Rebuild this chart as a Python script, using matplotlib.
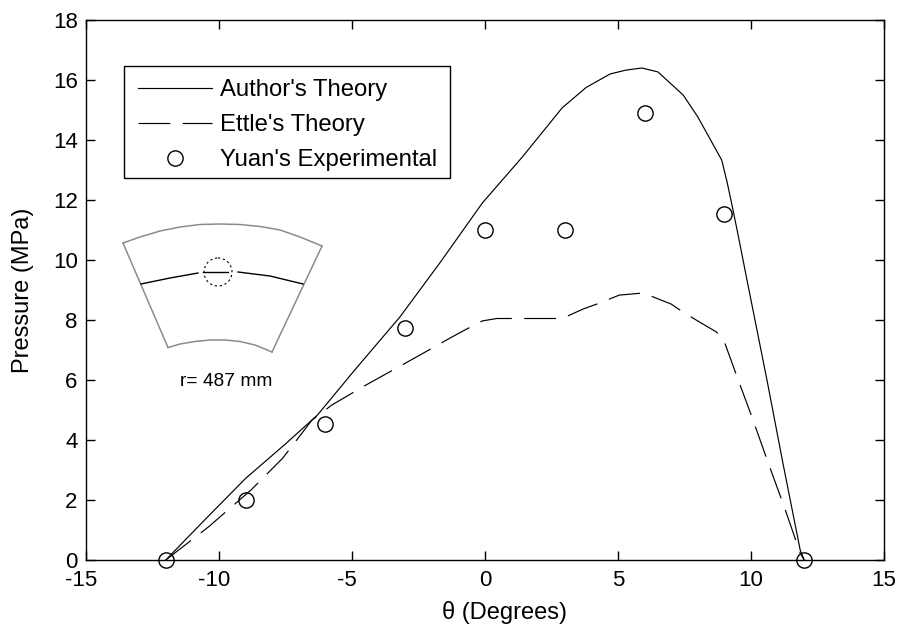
#!/usr/bin/env python3
"""Pressure vs. angle: theory curves against experiment, with a small pad sketch."""

import matplotlib
matplotlib.use("Agg")
import matplotlib.pyplot as plt
from matplotlib.patches import Circle, Rectangle
from matplotlib.transforms import Affine2D

plt.rcParams["font.family"] = ["Liberation Sans", "DejaVu Sans"]
plt.rcParams["axes.unicode_minus"] = False

# Author's theory
author_theta = [-12, -10.6, -9, -7.5, -6.3, -4.9, -3.2, -1.7, -0.1, 1.4, 2.9, 3.8, 4.7, 5.3, 5.9, 6.5, 7.45, 8, 8.65, 8.9, 9.1, 9.3, 9.5, 9.85, 10.6, 11.2, 11.85, 12]
author_p = [0, 1.28, 2.72, 3.87, 4.83, 6.33, 8.1, 9.9, 11.9, 13.43, 15.07, 15.75, 16.2, 16.33, 16.4, 16.27, 15.5, 14.77, 13.73, 13.33, 12.6, 11.77, 10.9, 9.33, 6.0, 3.23, 0.33, 0]

# Ettle's theory
ettle_theta = [-12, -10.4, -8.8, -7.6, -6.5, -5.75, -4.6, -2.45, -1.25, -0.75, -0.1, 0.45, 2.9, 3.7, 4.2, 5.05, 5.95, 7, 7.5, 8.7, 9, 9.45, 10.05, 10.65, 11.25, 11.85, 12]
ettle_p = [0, 1.1, 2.33, 3.4, 4.67, 5.17, 5.77, 6.83, 7.43, 7.67, 7.97, 8.05, 8.05, 8.37, 8.53, 8.83, 8.9, 8.53, 8.23, 7.6, 7.27, 6.17, 4.73, 3.23, 1.77, 0.23, 0]

# Yuan's experimental points
yuan_theta = [-12, -9, -6, -3, 0, 3, 6, 9, 12]
yuan_p = [0, 2.0, 4.55, 7.75, 11.0, 11.0, 14.9, 11.55, 0]

x_ticks = [-15, -10, -5, 0, 5, 10, 15]
y_ticks = [0, 2, 4, 6, 8, 10, 12, 14, 16, 18]

# Pad sketch outline, in figure pixels (y measured from the top)
outer_arc = ([123, 140, 160, 180, 200, 220, 240, 260, 280, 300, 322],
             [243, 237, 231, 227, 224.5, 224, 224.5, 226.5, 230, 237, 246])
inner_arc = ([168, 180, 195, 210, 225, 240, 255, 272],
             [347.5, 344, 341.5, 340, 340, 341.5, 345, 352])
film_left = ([141, 170, 198], [284, 278, 273])
film_right = ([238, 270, 303], [272, 276, 284])
film_mid = ([203, 228], [272, 272])
detail_center = (218, 272)
detail_radius = 14

W, H = 899, 628

fig = plt.figure(figsize=(W / 100, H / 100), dpi=100)
ax = fig.add_axes([86 / W, 1 - 560 / H, 798 / W, 540 / H])

ax.plot(author_theta, author_p, color="black", lw=0.85, label="Author's Theory")
ax.plot(ettle_theta, ettle_p, color="black", lw=0.85, dashes=(27, 10.5), label="Ettle's Theory")
ax.plot(yuan_theta, yuan_p, "o", mfc="none", mec="black", mew=1.0, ms=11,
        clip_on=False, zorder=5, label="Yuan's Experimental")

ax.set_xlim(-15, 15)
ax.set_ylim(0, 18)
ax.set_xticks(x_ticks, labels=[str(t) for t in x_ticks])
ax.set_yticks(y_ticks)
ax.tick_params(direction="in", top=True, right=True, length=6.8, width=1.0, labelsize=16)
ax.tick_params(axis="x", pad=7.5)
ax.tick_params(axis="y", pad=6)
for spine in ax.spines.values():
    spine.set_linewidth(1.0)

# negative labels sit a little left of their ticks in the original
for lbl in ax.get_xticklabels():
    if lbl.get_text().startswith("-"):
        lbl.set_transform(lbl.get_transform() + Affine2D().translate(-5, 0))

# Legend without its own frame, so the box can be sized separately below
ax.legend(loc="upper left", bbox_to_anchor=(52 / 798, 1 - 59 / 540), fontsize=17.2, frameon=False,
          borderaxespad=0, borderpad=0, labelspacing=0.55, handlelength=3.1, handletextpad=0.32)

# Sketch overlay, legend box and axis titles drawn in pixel coordinates
sk = fig.add_axes([0, 0, 1, 1], facecolor="none")
sk.set_xlim(0, W)
sk.set_ylim(H, 0)
sk.axis("off")
sk.add_patch(Rectangle((124, 66), 326, 112, fill=False, ec="black", lw=1.0))
grey = "#8c8c8c"
sk.plot(*outer_arc, color=grey, lw=1.1)
sk.plot(*inner_arc, color=grey, lw=1.1)
sk.plot([outer_arc[0][0], inner_arc[0][0]], [outer_arc[1][0], inner_arc[1][0]], color=grey, lw=1.1)
sk.plot([outer_arc[0][-1], inner_arc[0][-1]], [outer_arc[1][-1], inner_arc[1][-1]], color=grey, lw=1.1)
for part in (film_left, film_mid, film_right):
    sk.plot(*part, color="black", lw=1.0)
sk.add_patch(Circle(detail_center, detail_radius, fill=False, ec="black", lw=0.8, ls=(0, (2, 2.5))))
sk.text(226, 382, "r= 487 mm", ha="center", va="center", fontsize=13.8)
sk.text(504, 612, "\u03b8 (Degrees)", ha="center", va="center", fontsize=17)
sk.text(23, 290, "Pressure (MPa)", ha="center", va="center", rotation=90, fontsize=17)

fig.savefig("out.png", dpi=100)
